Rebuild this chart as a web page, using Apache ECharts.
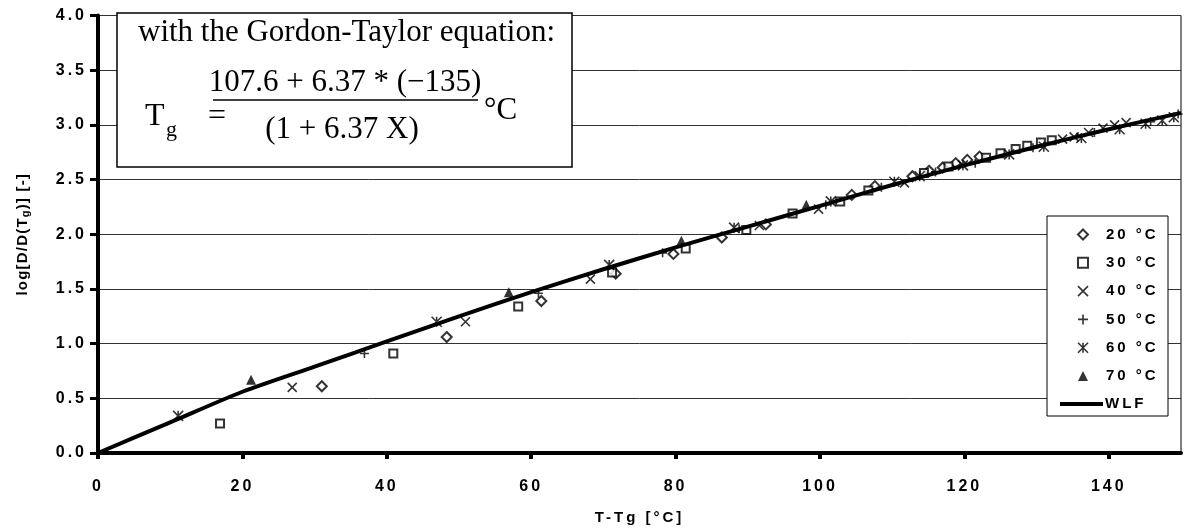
<!DOCTYPE html>
<html>
<head>
<meta charset="utf-8">
<style>
  html, body { margin: 0; padding: 0; background: #fff; }
  #chart { width: 1186px; height: 532px; }
</style>
<script src="https://cdn.jsdelivr.net/npm/echarts@6/dist/echarts.min.js"></script>
</head>
<body>
<div id="chart"></div>
<script>
// ---------- data ----------
const xTicks = [0, 20, 40, 60, 80, 100, 120, 140];
const seriesNames = ['20 °C', '30 °C', '40 °C', '50 °C', '60 °C', '70 °C', 'WLF'];

const s20 = [[31.0,0.61],[48.3,1.06],[61.4,1.39],[71.7,1.64],[79.7,1.82],[86.4,1.97],[92.5,2.09],
  [104.4,2.36],[107.6,2.44],[112.8,2.53],[115.1,2.58],[117.0,2.61],[118.8,2.65],[120.4,2.68],[122.1,2.71]];
const s30 = [[16.9,0.27],[40.9,0.91],[58.2,1.34],[71.2,1.65],[81.4,1.87],[89.8,2.04],[96.2,2.19],
  [102.8,2.30],[106.7,2.40],[114.4,2.56],[117.8,2.62],[123.0,2.70],[125.0,2.74],[127.1,2.78],
  [128.7,2.81],[130.6,2.84],[132.1,2.86]];
const s40 = [[26.9,0.60],[50.9,1.20],[68.2,1.59],[91.6,2.08],[99.8,2.23],[111.7,2.47],[133.6,2.87],
  [135.2,2.89],[137.2,2.93],[139.2,2.97],[140.8,3.00],[142.4,3.02]];
const s50 = [[36.9,0.91],[61.0,1.46],[78.2,1.83],[88.8,2.05],[100.8,2.27],[108.5,2.43],[116.0,2.57],
  [121.5,2.65],[129.5,2.79],[138.0,2.93],[145.8,3.03],[149.6,3.10]];
const s60 = [[11.1,0.34],[46.9,1.20],[70.8,1.72],[88.1,2.06],[101.5,2.30],[110.3,2.48],[113.8,2.53],
  [119.8,2.63],[126.2,2.73],[131.0,2.80],[136.2,2.88],[141.5,2.96],[145.1,3.01],[147.4,3.04],[149.0,3.07]];
const s70 = [[21.2,0.67],[56.9,1.47],[80.8,1.94],[98.1,2.27]];
const wlf = [[0,0],[10,0.28],[20,0.56],[30,0.79],[40,1.02],[50,1.25],[60,1.47],[70,1.68],[80,1.88],
  [90,2.07],[100,2.26],[110,2.45],[120,2.63],[130,2.80],[140,2.96],[150,3.11]];

const eqLine1 = 'with the Gordon-Taylor equation:';
const eqNum = '107.6 + 6.37 * (\u2212135)';
const eqDen = '(1 + 6.37 X)';

// ---------- letter spacing for the sans labels (Excel-like look) ----------
(function () {
  const P = CanvasRenderingContext2D.prototype;
  if (!('letterSpacing' in P)) return;
  const setLS = (ctx) => {
    const f = ctx.font;
    ctx.letterSpacing = /Liberation Sans/.test(f) ? '3px' : (/Arial/.test(f) ? '1.2px' : '0px');
  };
  const f = P.fillText, s = P.strokeText, m = P.measureText;
  P.fillText = function () { setLS(this); return f.apply(this, arguments); };
  P.strokeText = function () { setLS(this); return s.apply(this, arguments); };
  P.measureText = function () { setLS(this); return m.apply(this, arguments); };
})();

const SANS = 'Liberation Sans';
const lblStyle = { fontFamily: SANS, fontWeight: 'bold', fontSize: 15, color: '#000' };
const tickStyle = { fontFamily: SANS, fontWeight: 'bold', fontSize: 16, color: '#000' };
const black = '#000';
const strokeItem = { color: 'rgba(0,0,0,0)', borderColor: black, borderWidth: 1.6 };

const chart = echarts.init(document.getElementById('chart'), null, { renderer: 'canvas' });
chart.setOption({
  animation: false,
  backgroundColor: '#fff',
  grid: { left: 98, right: 5, top: 15.5, bottom: 76.5, show: true, borderColor: black, borderWidth: 1 },
  xAxis: {
    type: 'value', min: 0, max: 150,
    name: 'T-Tg [°C]', nameLocation: 'middle', nameGap: 56,
    nameTextStyle: lblStyle,
    axisLine: { lineStyle: { color: black, width: 4 } },
    axisTick: { inside: false, length: 6, lineStyle: { color: black, width: 4 }, customValues: xTicks },
    axisLabel: Object.assign({ margin: 24, customValues: xTicks }, tickStyle),
    splitLine: { show: false }
  },
  yAxis: {
    type: 'value', min: 0, max: 4, interval: 0.5,
    name: 'log[D/D(T{sub|g})] [-]', nameLocation: 'middle', nameGap: 66, nameRotate: 90,
    nameTextStyle: {
      fontFamily: 'Arial', fontWeight: 'bold', fontSize: 15, color: black, lineHeight: 19,
      rich: { sub: { fontFamily: 'Arial', fontWeight: 'bold', fontSize: 11, lineHeight: 11, verticalAlign: 'bottom', color: black } }
    },
    axisLine: { show: true, lineStyle: { color: black, width: 4 } },
    axisTick: { show: true, inside: false, length: 8, lineStyle: { color: black, width: 3 } },
    axisLabel: Object.assign({ margin: 11, formatter: v => v.toFixed(1) }, tickStyle),
    splitLine: { show: true, lineStyle: { color: '#333', width: 1 } }
  },
  legend: [
    {
      orient: 'vertical', left: 1077, top: 225.5, padding: 0,
      itemWidth: 10, itemHeight: 10, itemGap: 10.3,
      data: seriesNames.slice(0, 6),
      itemStyle: { borderWidth: 1.6 },
      textStyle: Object.assign({ lineHeight: 15, padding: [0, 0, 0, 13] }, lblStyle),
      z: 6
    },
    {
      orient: 'vertical', left: 1060, top: 395, padding: 0,
      itemWidth: 43, itemHeight: 4,
      data: [{ name: seriesNames[6], icon: 'rect' }],
      itemStyle: { color: black, borderWidth: 0 },
      textStyle: Object.assign({ lineHeight: 15, padding: [0, 0, 0, -3] }, lblStyle),
      z: 6
    }
  ],
  graphic: [
    { type: 'rect', z: 5, shape: { x: 1047, y: 216, width: 121, height: 200 },
      style: { fill: '#fff', stroke: black, lineWidth: 1 } },
    { type: 'rect', z: 5, shape: { x: 117, y: 13, width: 455, height: 154 },
      style: { fill: '#fff', stroke: black, lineWidth: 1.5 } },
    { type: 'text', z: 6, x: 138, y: 33,
      style: { text: eqLine1, font: '31px "Liberation Serif"', fill: black, verticalAlign: 'middle' } },
    { type: 'text', z: 6, x: 145, y: 117,
      style: { text: 'T', font: '32px "Liberation Serif"', fill: black, verticalAlign: 'middle' } },
    { type: 'text', z: 6, x: 166, y: 130,
      style: { text: 'g', font: '22px "Liberation Serif"', fill: black, verticalAlign: 'middle' } },
    { type: 'text', z: 6, x: 208, y: 117,
      style: { text: '=', font: '32px "Liberation Serif"', fill: black, verticalAlign: 'middle' } },
    { type: 'text', z: 6, x: 345, y: 83,
      style: { text: eqNum, font: '31px "Liberation Serif"', fill: black, align: 'center', verticalAlign: 'middle' } },
    { type: 'line', z: 6, shape: { x1: 213, y1: 100, x2: 478, y2: 100 },
      style: { stroke: black, lineWidth: 1.5 } },
    { type: 'text', z: 6, x: 342, y: 130,
      style: { text: eqDen, font: '31px "Liberation Serif"', fill: black, align: 'center', verticalAlign: 'middle' } },
    { type: 'text', z: 6, x: 484, y: 111,
      style: { text: '°C', font: '31px "Liberation Serif"', fill: black, verticalAlign: 'middle' } }
  ],
  series: [
    { name: seriesNames[0], type: 'scatter', data: s20, symbol: 'emptyDiamond', symbolSize: 10,
      itemStyle: { color: black, borderColor: black, borderWidth: 1.6 }, z: 3 },
    { name: seriesNames[1], type: 'scatter', data: s30, symbol: 'emptyRect', symbolSize: 8,
      itemStyle: { color: black, borderColor: black, borderWidth: 1.6 }, z: 3 },
    { name: seriesNames[2], type: 'scatter', data: s40, symbol: 'path://M0,0L10,10M10,0L0,10', symbolSize: 9,
      itemStyle: strokeItem, z: 3 },
    { name: seriesNames[3], type: 'scatter', data: s50, symbol: 'path://M5,0L5,10M0,5L10,5', symbolSize: 9,
      itemStyle: strokeItem, z: 3 },
    { name: seriesNames[4], type: 'scatter', data: s60, symbol: 'path://M0,0L10,10M10,0L0,10M5,0L5,10', symbolSize: 10,
      itemStyle: strokeItem, z: 3 },
    { name: seriesNames[5], type: 'scatter', data: s70, symbol: 'triangle', symbolSize: 10,
      itemStyle: { color: black }, z: 3 },
    { name: seriesNames[6], type: 'line', data: wlf, symbol: 'none', smooth: 0.25,
      lineStyle: { color: black, width: 4 }, itemStyle: { color: black }, z: 4 }
  ]
});
</script>
</body>
</html>
